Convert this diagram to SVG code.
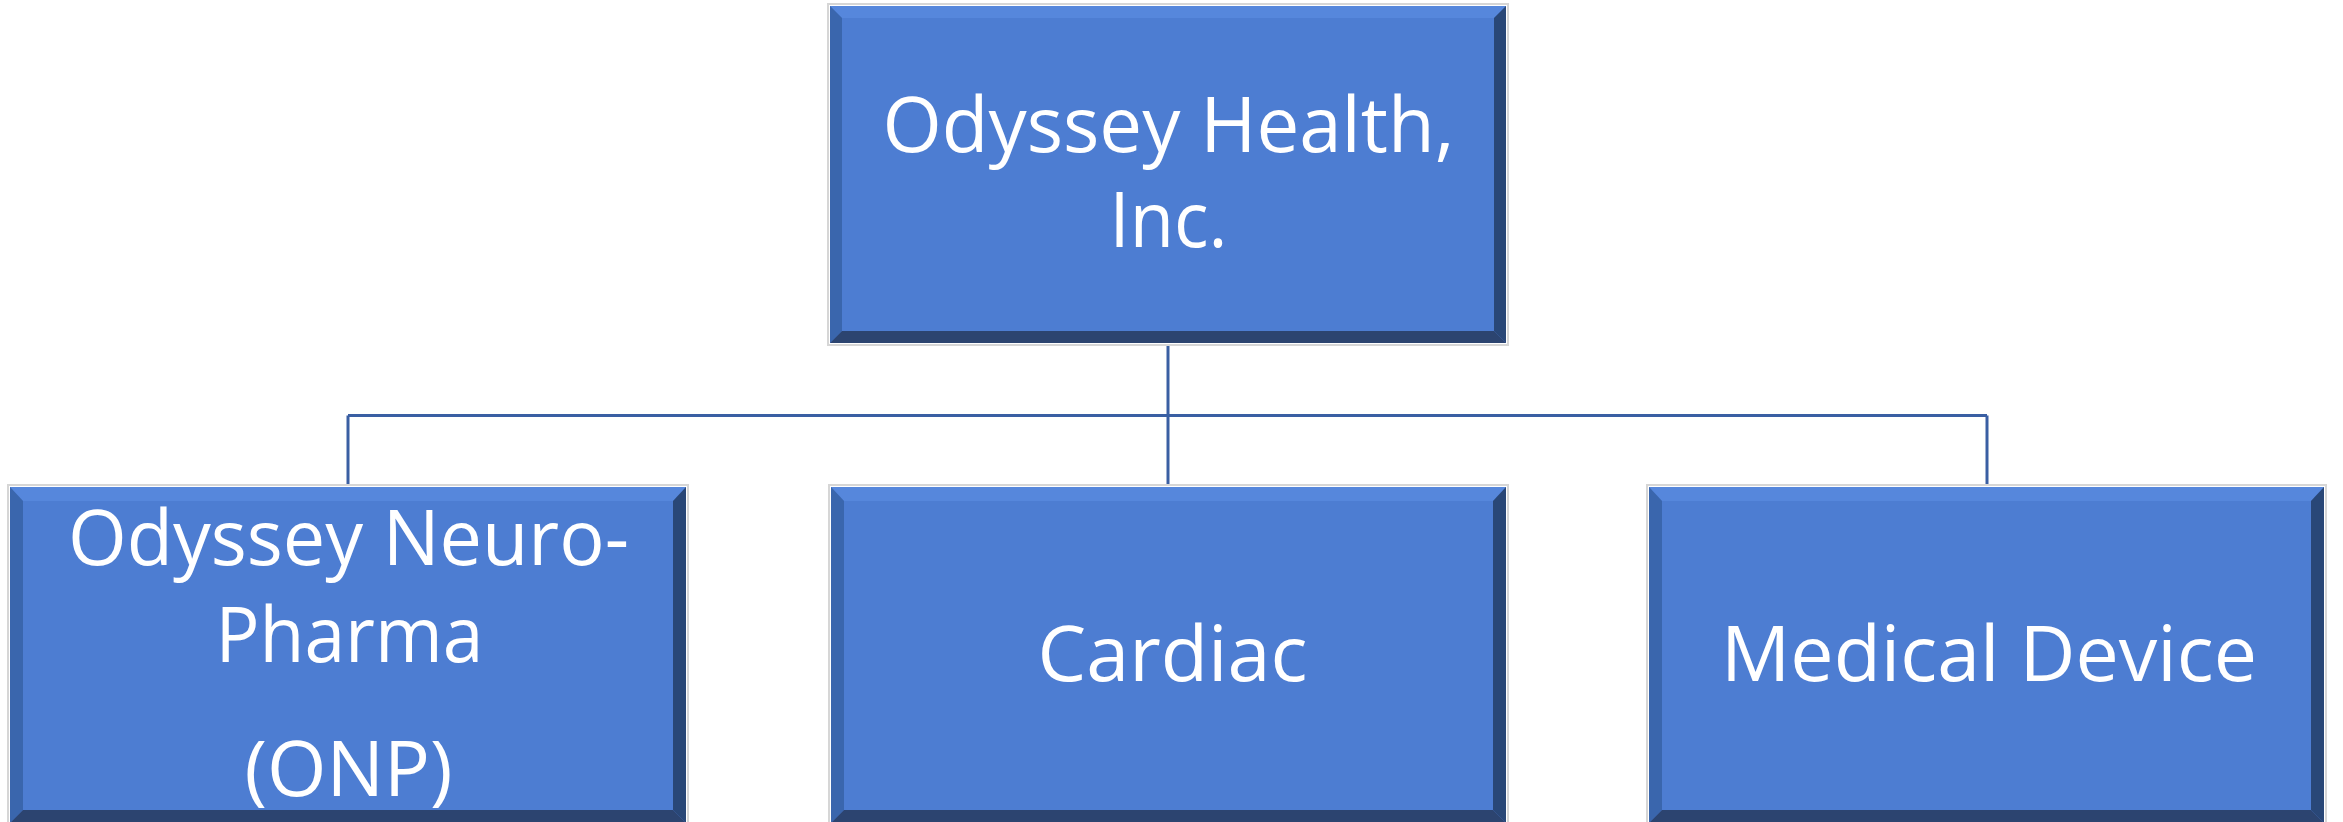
<svg xmlns="http://www.w3.org/2000/svg" width="2343" height="822" viewBox="0 0 2343 822">
  <defs>
    <style>
      .frame { fill: none; stroke: #d6d6d6; stroke-width: 2; }
      .face { fill: #4d7dd2; }
      .bev-top { fill: #5687dc; }
      .bev-left { fill: #3a66ad; }
      .bev-right { fill: #294777; }
      .bev-bottom { fill: #2c4470; }
      .label { font-family: "Open Sans", "Lato", "Liberation Sans", sans-serif; font-size: 77px; fill: #ffffff; text-anchor: middle; }
      .link { fill: none; stroke: #3a5fa3; stroke-width: 3; }
    </style>
  </defs>

  <!-- connectors -->
  <g id="connectors">
    <path class="link" d="M1168 346 V485"/>
    <path class="link" d="M348 415.5 H1987"/>
    <path class="link" d="M348 415.5 V485"/>
    <path class="link" d="M1987 415.5 V485"/>
  </g>

  <!-- parent node -->
  <g id="node-odyssey-health">
    <rect class="frame" x="828" y="4" width="680" height="341"/>
    <rect class="face" x="830" y="6" width="676" height="337"/>
    <polygon class="bev-top" points="830,6 1506,6 1494,18 842,18"/>
    <polygon class="bev-left" points="830,6 842,18 842,331 830,343"/>
    <polygon class="bev-right" points="1506,6 1506,343 1494,331 1494,18"/>
    <polygon class="bev-bottom" points="830,343 1506,343 1494,331 842,331"/>
    <text class="label" x="1168.5" y="151.5" textLength="572" lengthAdjust="spacingAndGlyphs">Odyssey Health,</text>
    <text class="label" x="1168.5" y="246.5" textLength="118" lengthAdjust="spacingAndGlyphs">Inc.</text>
  </g>

  <!-- child: neuro-pharma -->
  <g id="node-onp">
    <rect class="frame" x="8" y="485" width="680" height="340"/>
    <rect class="face" x="10" y="487" width="676" height="336"/>
    <polygon class="bev-top" points="10,487 686,487 673,501 23,501"/>
    <polygon class="bev-left" points="10,487 23,501 23,810 10,823"/>
    <polygon class="bev-right" points="686,487 686,823 673,810 673,501"/>
    <polygon class="bev-bottom" points="10,823 686,823 673,810 23,810"/>
    <text class="label" x="348.5" y="565" textLength="561" lengthAdjust="spacingAndGlyphs">Odyssey Neuro-</text>
    <text class="label" x="349.5" y="661.5" textLength="268" lengthAdjust="spacingAndGlyphs">Pharma</text>
    <text class="label" x="348.5" y="795.5" textLength="208" lengthAdjust="spacingAndGlyphs">(ONP)</text>
  </g>

  <!-- child: cardiac -->
  <g id="node-cardiac">
    <rect class="frame" x="829" y="485" width="679" height="340"/>
    <rect class="face" x="831" y="487" width="675" height="336"/>
    <polygon class="bev-top" points="831,487 1506,487 1493,501 844,501"/>
    <polygon class="bev-left" points="831,487 844,501 844,810 831,823"/>
    <polygon class="bev-right" points="1506,487 1506,823 1493,810 1493,501"/>
    <polygon class="bev-bottom" points="831,823 1506,823 1493,810 844,810"/>
    <text class="label" x="1172.5" y="681" textLength="270" lengthAdjust="spacingAndGlyphs">Cardiac</text>
  </g>

  <!-- child: medical device -->
  <g id="node-medical-device">
    <rect class="frame" x="1647" y="485" width="679" height="340"/>
    <rect class="face" x="1649" y="487" width="675" height="336"/>
    <polygon class="bev-top" points="1649,487 2324,487 2311,501 1662,501"/>
    <polygon class="bev-left" points="1649,487 1662,501 1662,810 1649,823"/>
    <polygon class="bev-right" points="2324,487 2324,823 2311,810 2311,501"/>
    <polygon class="bev-bottom" points="1649,823 2324,823 2311,810 1662,810"/>
    <text class="label" x="1989" y="680.5" textLength="536" lengthAdjust="spacingAndGlyphs">Medical Device</text>
  </g>
</svg>
